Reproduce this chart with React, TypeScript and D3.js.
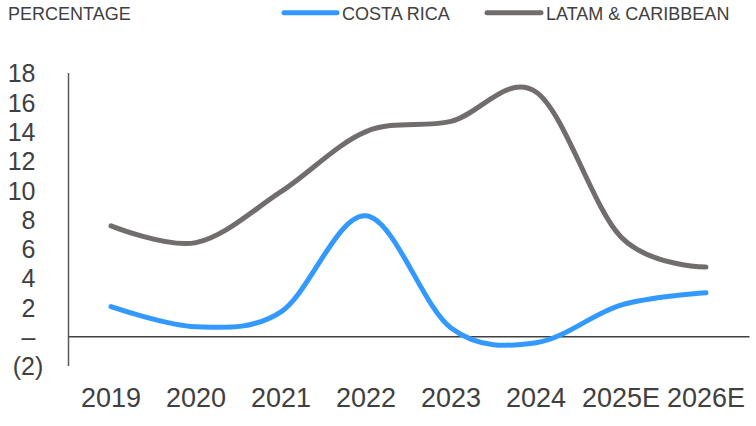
import React from "react";
import * as d3 from "d3";

const categories = ["2019", "2020", "2021", "2022", "2023", "2024", "2025E", "2026E"];
const costaRica = [2.05, 0.68, 1.7, 8.25, 0.6, -0.41, 2.16, 3.0];
const latam = [7.56, 6.42, 9.9, 14.0, 14.7, 16.7, 6.8, 4.75];
const yTicks = [-2, 0, 2, 4, 6, 8, 10, 12, 14, 16, 18];
const legendLabels = ["COSTA RICA", "LATAM & CARIBBEAN"];
const unitLabel = "PERCENTAGE";

const W = 756;
const H = 426;
const FONT = "'Liberation Sans', Arial, sans-serif";
const TEXT = "#404040";
const BLUE = "#3399FF";
const GRAY = "#716D6D";

export default function App() {
  const x = d3.scalePoint<string>().domain(categories).range([68.5, 748.5]).padding(0.5);
  const y = d3.scaleLinear().domain([-2, 18]).range([366, 73]);

  const line = d3
    .line<number>()
    .x((_, i) => x(categories[i]) as number)
    .y((d) => y(d))
    .curve(d3.curveCatmullRom.alpha(0));

  const fmt = (v: number) => (v < 0 ? `(${-v})` : v === 0 ? "–" : String(v));

  return (
    <svg
      width={W}
      height={H}
      style={{ position: "absolute", left: 0, top: 0, background: "#fff" }}
      fontFamily={FONT}
    >
      {/* header */}
      <text x={8} y={20} fontSize={18} fill={TEXT}>
        {unitLabel}
      </text>
      <line x1={284} x2={337} y1={12.7} y2={12.7} stroke={BLUE} strokeWidth={5} strokeLinecap="round" />
      <text x={342} y={20} fontSize={18} fill={TEXT}>
        {legendLabels[0]}
      </text>
      <line x1={487} x2={541} y1={12.7} y2={12.7} stroke={GRAY} strokeWidth={5} strokeLinecap="round" />
      <text x={546} y={20} fontSize={18} fill={TEXT}>
        {legendLabels[1]}
      </text>

      {/* y axis */}
      <line x1={68.5} x2={68.5} y1={y(18)} y2={y(-2)} stroke="#595959" strokeWidth={1.5} />
      {yTicks.map((v) => (
        <text
          key={v}
          x={v < 0 ? 43.3 : 35.5}
          y={y(v) + 9.3}
          fontSize={25}
          textAnchor="end"
          fill={TEXT}
        >
          {fmt(v)}
        </text>
      ))}

      {/* zero line */}
      <line x1={68.5} x2={749.5} y1={y(0)} y2={y(0)} stroke="#404040" strokeWidth={1.5} />

      {/* x labels */}
      {categories.map((c) => (
        <text key={c} x={x(c)} y={407} fontSize={27} textAnchor="middle" fill={TEXT}>
          {c}
        </text>
      ))}

      {/* series */}
      <path d={line(latam) || ""} fill="none" stroke={GRAY} strokeWidth={5} strokeLinecap="round" />
      <path d={line(costaRica) || ""} fill="none" stroke={BLUE} strokeWidth={5} strokeLinecap="round" />
    </svg>
  );
}
